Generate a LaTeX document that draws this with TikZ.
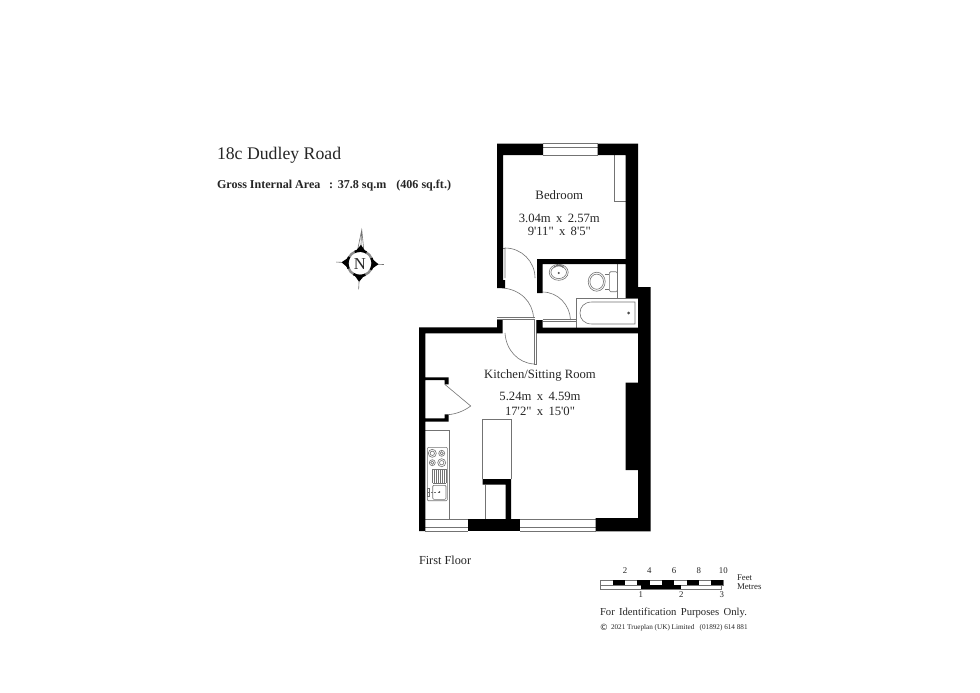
\documentclass[tikz,border=0pt]{standalone}
\usepackage{fontspec}
\setmainfont[Ligatures=TeXOff]{Liberation Serif}
\definecolor{thin}{gray}{0.45}
\tikzset{
  fine/.style={draw=thin,line width=0.45pt},
  wall/.style={fill=black,draw=none},
  lbl/.style={inner sep=0pt,outer sep=0pt,text=black!85},
  lblw/.style={lbl,anchor=west},
  sz/.style={font=\fontsize{#1}{#1}\selectfont}
}
\begin{document}
\begin{tikzpicture}[x=0.75pt,y=-0.75pt]
\useasboundingbox (0,0) rectangle (980,692);
\fill[white] (0,0) rectangle (980,692);
% thin fixtures
\draw[fine] (543,143.5)--(597.5,143.5) (543,147)--(597.5,147) (543,155)--(597.5,155);
\draw[fine] (614.7,155)--(614.7,201)--(625.7,201);
% upper door
\draw[fine] (505,278)--(505,248) arc[start angle=-90,end angle=0,radius=30];
\draw[fine] (503,248)--(505,248);
% hall door
\draw[fine] (502,288) .. controls (520,289) and (533,302) .. (533.5,318);
\draw[fine] (497,317.7)--(534.5,317.7) (497,319.7)--(534.5,319.7);
% kitchen door
\draw[fine] (534,320)--(534,364) (535.8,320)--(535.8,364)--(534,364);
\draw[fine] (505,333) .. controls (506,350) and (518,363) .. (534,364);
% bathroom door
\draw[fine] (542.5,292) .. controls (558,292) and (570,305) .. (570.5,320);
\draw[fine] (542.5,319)--(576.7,319) (542.5,321)--(576.7,321);
% bathroom
\draw[fine] (576.7,327.7)--(576.7,298)--(638,298);
\draw[fine] (617.3,264)--(617.3,298);
\draw[fine,rounded corners=1pt] (609.3,271.7) rectangle (617.3,291.7);
\draw[fine] (596.7,281.7) ellipse[x radius=8.5,y radius=9.5];
\draw[fine] (596.7,281.7) ellipse[x radius=6.8,y radius=7.6];
\draw[fine] (605,274.5)--(609.3,274.5) (605,289)--(609.3,289);
\draw[fine] (635,302)--(592,302) .. controls (584,302) and (580,307) .. (580,313) .. controls (580,319) and (584,324) .. (592,324)--(635,324)--cycle;
\fill[black!70] (628.7,313) circle (1.5);
% basin
\draw[fine] (558.7,272.3) ellipse[x radius=9.5,y radius=8];
\draw[fine] (558.7,272.3) ellipse[x radius=7.8,y radius=6.3];
\fill[black!70] (558.7,273) circle (1.1);
\draw[fine] (556,265.5)--(561.5,265.5) (555,266.5) circle (0.8) (562.5,266.5) circle (0.8);
% cupboard door
\draw[fine] (444.7,384.3)--(470.7,406) .. controls (464,411) and (456,414) .. (448.7,414.6);
% kitchen units
\draw[fine] (425.3,430)--(449.3,430)--(449.3,519);
\draw[fine,rounded corners=0.8pt] (427.3,447.3) rectangle (447.3,500.7);
\foreach \x/\y/\r in {432.3/453.3/4,441.7/453.3/3,432.3/462.7/3,441.7/462.7/4}{
  \draw[fine] (\x,\y) circle (\r);
  \draw[fine] (\x,\y) circle (\r*0.55);
}
\foreach \x in {432.7,434.6,436.5,438.4,440.3,442.2,444.1,446}{\draw[fine] (\x,469.3)--(\x,483.3);}
\draw[fine] (432.7,469.3)--(446,469.3) (432.7,483.3)--(446,483.3);
\draw[fine,rounded corners=0.8pt] (432.7,485.3) rectangle (446,499.3);
\draw[fine,dashed,dash pattern=on 1.5pt off 1pt] (427.5,492)--(440,492);
\draw[fine] (427,488.5) rectangle (429,496);
\fill[black!70] (439.5,492) circle (0.8);
% kitchen windows
\draw[fine] (425.3,519)--(468,519) (425.3,527)--(468,527) (425.3,531)--(468,531);
\draw[fine] (520,519)--(595.7,519) (520,527)--(595.7,527) (520,531)--(595.7,531);
% island
\draw[fine] (482.7,479)--(482.7,419.3)--(511,419.3)--(511,479);
\draw[fine] (485.7,484.7)--(485.7,519);
% walls
\fill[wall] (497,143.5)--(543,143.5)--(543,155)--(503,155)--(503,280)--(505,280)--(505,288)--(497,288)--cycle;
\fill[wall] (597.5,143.5)--(638,143.5)--(638,287)--(650.7,287)--(650.7,531.3)--(595.7,531.3)--(595.7,518)--(638,518)--(638,470)--(625.7,470)--(625.7,382.7)--(638,382.7)--(638,333.3)--(536.7,333.3)--(536.7,320)--(542.5,320)--(542.5,327.7)--(638,327.7)--(638,298)--(625.7,298)--(625.7,264)--(542.5,264)--(542.5,293)--(537,293)--(537,259)--(625.7,259)--(625.7,155)--(597.5,155)--cycle;
\fill[wall] (497,320)--(502.7,320)--(502.7,333.3)--(425.3,333.3)--(425.3,377.3)--(448.7,377.3)--(448.7,384.3)--(444.7,384.3)--(444.7,380)--(425.3,380)--(425.3,418.3)--(444.7,418.3)--(444.7,414.3)--(448.7,414.3)--(448.7,421.7)--(425.3,421.7)--(425.3,531)--(419,531)--(419,327.3)--(497,327.3)--cycle;
\fill[wall] (468,519) rectangle (520,531);
\fill[wall] (482.7,479)--(511,479)--(511,519)--(505.7,519)--(505.7,484.7)--(482.7,484.7)--cycle;
% compass
\begin{scope}[shift={(360,263.3)},rotate=-3]
  \draw[fine] (-3,-14)--(0,-33.5)--(3,-14) (0,-33.5)--(0,-14);
  \draw[fine] (0,12)--(0,26) (-24,0)--(-11,0) (11,0)--(24,0);
  \draw[draw=black!45,line width=1.8pt] (0,0) circle (12.6);
  \foreach \a in {0,90,180,270}{
    \draw[black,line width=1.8pt] (\a-28:12.6) arc[start angle=\a-28,end angle=\a+28,radius=12.6];
  }
  \fill[black] (-5,-12)--(0,-18.5)--(5,-12)--cycle;
  \fill[black] (-5,12)--(0,18.5)--(5,12)--cycle;
  \fill[black] (-12,-5)--(-18.5,0)--(-12,5)--cycle;
  \fill[black] (12,-5)--(18.5,0)--(12,5)--cycle;
\end{scope}
\node[lbl,sz=12.5] (north) at (360,264) {N};
% labels
\node[lblw,sz=13.3] (title) at (217,155.5) {18c Dudley Road};
\node[lblw,sz=9.05] (area) at (217,185.5) {\bfseries Gross Internal Area\hspace{6.5pt}:\hspace{3.5pt}37.8 sq.m\hspace{7.5pt}(406 sq.ft.)};
\node[lbl,sz=9.6] (bedroom) at (559.3,195.5) {Bedroom};
\node[lbl,sz=9.5] (beda) at (559.3,218.3) {3.04m\hspace{4pt}x\hspace{4pt}2.57m};
\node[lbl,sz=9.5] (bedb) at (559.3,231.7) {9'11"\hspace{4pt}x\hspace{4pt}8'5"};
\node[lbl,sz=9.5] (kitchen) at (540,375) {Kitchen/Sitting Room};
\node[lbl,sz=9.5] (kita) at (540,396.7) {5.24m\hspace{4pt}x\hspace{4pt}4.59m};
\node[lbl,sz=9.5] (kitb) at (540,411) {17'2"\hspace{4pt}x\hspace{4pt}15'0"};
\node[lblw,sz=9.2] (floor) at (419,560.5) {First Floor};
% scale bar
\draw[fine] (600,580) rectangle (723.3,585);
\draw[fine] (600,585) rectangle (721.7,589.3);
\foreach \x in {612.7,637.3,662,686.7,711}{\fill[wall] (\x,580) rectangle +(12.33,5);}
\fill[wall] (640.7,585) rectangle (681.3,589.3);
\foreach \x/\t in {625/2,649.3/4,674/6,698.7/8,723.3/10}{
  \node[lbl,sz=6.6] (ft\t) at (\x,570.7) {\t};
}
\foreach \x/\t in {640.7/1,681.3/2,721.7/3}{
  \node[lbl,sz=6.6] (m\t) at (\x,594.3) {\t};
}
\node[lblw,sz=6.6] (feet) at (737,577.3) {Feet};
\node[lblw,sz=6.6] (metres) at (737,586.7) {Metres};
\node[lblw,sz=8] (ident) at (600,612.5) {For\hspace{1.2pt} Identification\hspace{1.2pt} Purposes\hspace{1.2pt} Only.};
\node[lbl,sz=6.5] (copy) at (604,627) {\fontspec{DejaVu Sans}©};
\node[lblw,sz=5.4] (trueplan) at (611,627.3) {2021 Trueplan (UK) Limited\hspace{2.5pt} (01892) 614 881};
\end{tikzpicture}
\end{document}
